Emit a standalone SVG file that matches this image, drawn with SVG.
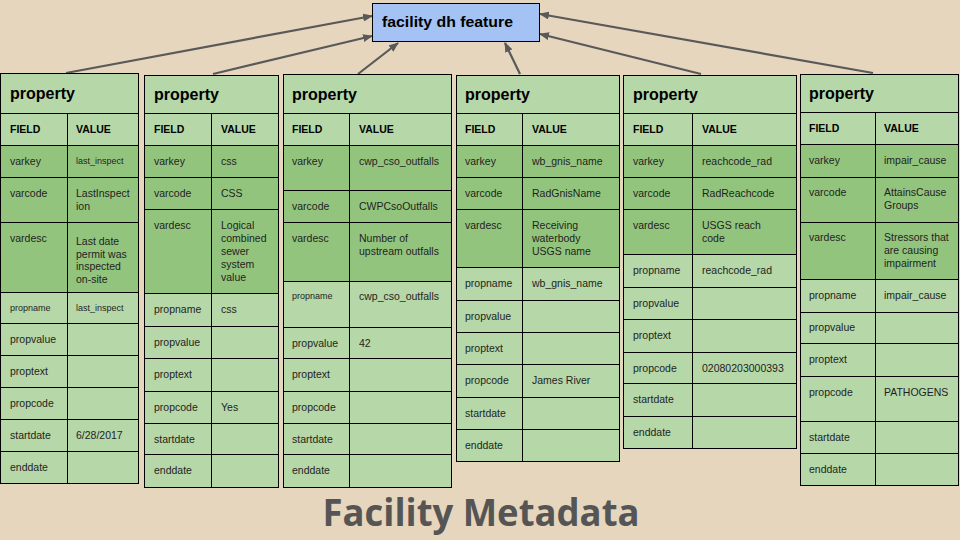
<svg xmlns="http://www.w3.org/2000/svg" width="960" height="540" viewBox="0 0 960 540">
<style>
.lt{fill:#b6d7a8;stroke:#000;stroke-width:1}
.dk{fill:#93c47d;stroke:#000;stroke-width:1}
.dv{stroke:#000;stroke-width:1}
text{font-family:"Liberation Sans",Arial,sans-serif;fill:#1f1f1f}
.h{font-size:16px;font-weight:bold;fill:#000}
.f{font-size:10.5px;font-weight:bold;fill:#000}
.t{font-size:10.5px}
.s{font-size:9px}
.con{stroke:#595959;stroke-width:2.2;fill:none;marker-end:url(#ah)}
</style>
<defs>
<marker id="ah" viewBox="0 0 10 8" refX="9" refY="4" markerWidth="10" markerHeight="8" markerUnits="userSpaceOnUse" orient="auto">
<path d="M0,0 L10,4 L0,8 z" fill="#595959"/>
</marker>
</defs>
<rect width="960" height="540" fill="#e6d6bd"/>

<g id="connectors">
<line class="con" x1="66" y1="73" x2="372" y2="16"/>
<line class="con" x1="213" y1="74" x2="372" y2="36"/>
<line class="con" x1="358" y1="74" x2="398" y2="43"/>
<line class="con" x1="520" y1="74" x2="505" y2="43"/>
<line class="con" x1="701" y1="74" x2="540" y2="34"/>
<line class="con" x1="873" y1="73" x2="540" y2="14"/>
</g>

<g id="feature">
<rect x="372.5" y="3.5" width="167" height="38" fill="#a4c2f4" stroke="#000" stroke-width="1"/>
<text x="382" y="27" style="font-size:15.5px;font-weight:bold;fill:#000" textLength="131" lengthAdjust="spacingAndGlyphs">facility dh feature</text>
</g>

<g id="table1">
<rect class="lt" x="0.5" y="73.5" width="138" height="40"/>
<rect class="lt" x="0.5" y="113.5" width="138" height="32"/>
<rect class="dk" x="0.5" y="145.5" width="138" height="32"/>
<rect class="dk" x="0.5" y="177.5" width="138" height="45"/>
<rect class="dk" x="0.5" y="222.5" width="138" height="70"/>
<rect class="lt" x="0.5" y="292.5" width="138" height="31"/>
<rect class="lt" x="0.5" y="323.5" width="138" height="32"/>
<rect class="lt" x="0.5" y="355.5" width="138" height="32"/>
<rect class="lt" x="0.5" y="387.5" width="138" height="32"/>
<rect class="lt" x="0.5" y="419.5" width="138" height="32"/>
<rect class="lt" x="0.5" y="451.5" width="138" height="32"/>
<line class="dv" x1="67.5" y1="113.5" x2="67.5" y2="483.5"/>
<text class="h" x="10" y="99">property</text>
<text class="f" x="10" y="133">FIELD</text><text class="f" x="76" y="133">VALUE</text>
<text class="t" x="10" y="165">varkey</text><text class="s" x="76" y="164">last_inspect</text>
<text class="t" x="10" y="197">varcode</text><text class="t" x="76" y="197">LastInspect</text><text class="t" x="76" y="210">ion</text>
<text class="t" x="10" y="242">vardesc</text><text class="t" x="76" y="245">Last date</text><text class="t" x="76" y="257.5">permit was</text><text class="t" x="76" y="270">inspected</text><text class="t" x="76" y="282.5">on-site</text>
<text class="s" x="10" y="311">propname</text><text class="s" x="76" y="311">last_inspect</text>
<text class="t" x="10" y="343">propvalue</text>
<text class="t" x="10" y="375">proptext</text>
<text class="t" x="10" y="407">propcode</text>
<text class="t" x="10" y="439">startdate</text><text class="t" x="76" y="439">6/28/2017</text>
<text class="t" x="10" y="471">enddate</text>
</g>

<g id="table2">
<rect class="lt" x="144.5" y="75.5" width="134" height="38"/>
<rect class="lt" x="144.5" y="113.5" width="134" height="32"/>
<rect class="dk" x="144.5" y="145.5" width="134" height="32"/>
<rect class="dk" x="144.5" y="177.5" width="134" height="32"/>
<rect class="dk" x="144.5" y="209.5" width="134" height="84"/>
<rect class="lt" x="144.5" y="293.5" width="134" height="33"/>
<rect class="lt" x="144.5" y="326.5" width="134" height="32"/>
<rect class="lt" x="144.5" y="358.5" width="134" height="33"/>
<rect class="lt" x="144.5" y="391.5" width="134" height="32"/>
<rect class="lt" x="144.5" y="423.5" width="134" height="31"/>
<rect class="lt" x="144.5" y="454.5" width="134" height="33"/>
<line class="dv" x1="211.5" y1="113.5" x2="211.5" y2="487.5"/>
<text class="h" x="154" y="100">property</text>
<text class="f" x="154" y="133">FIELD</text><text class="f" x="221" y="133">VALUE</text>
<text class="t" x="154" y="165">varkey</text><text class="t" x="221" y="165">css</text>
<text class="t" x="154" y="197">varcode</text><text class="t" x="221" y="197">CSS</text>
<text class="t" x="154" y="229">vardesc</text><text class="t" x="221" y="229">Logical</text><text class="t" x="221" y="242">combined</text><text class="t" x="221" y="255">sewer</text><text class="t" x="221" y="268">system</text><text class="t" x="221" y="281">value</text>
<text class="t" x="154" y="313">propname</text><text class="t" x="221" y="313">css</text>
<text class="t" x="154" y="346">propvalue</text>
<text class="t" x="154" y="378">proptext</text>
<text class="t" x="154" y="411">propcode</text><text class="t" x="221" y="411">Yes</text>
<text class="t" x="154" y="443">startdate</text>
<text class="t" x="154" y="474">enddate</text>
</g>

<g id="table3">
<rect class="lt" x="283.5" y="74.5" width="168" height="39"/>
<rect class="lt" x="283.5" y="113.5" width="168" height="32"/>
<rect class="dk" x="283.5" y="145.5" width="168" height="45"/>
<rect class="dk" x="283.5" y="190.5" width="168" height="32"/>
<rect class="dk" x="283.5" y="222.5" width="168" height="59"/>
<rect class="lt" x="283.5" y="281.5" width="168" height="46"/>
<rect class="lt" x="283.5" y="327.5" width="168" height="31"/>
<rect class="lt" x="283.5" y="358.5" width="168" height="33"/>
<rect class="lt" x="283.5" y="391.5" width="168" height="32"/>
<rect class="lt" x="283.5" y="423.5" width="168" height="31"/>
<rect class="lt" x="283.5" y="454.5" width="168" height="33"/>
<line class="dv" x1="349.5" y1="113.5" x2="349.5" y2="487.5"/>
<text class="h" x="292" y="100">property</text>
<text class="f" x="292" y="133">FIELD</text><text class="f" x="359" y="133">VALUE</text>
<text class="t" x="292" y="165">varkey</text><text class="t" x="359" y="165">cwp_cso_outfalls</text>
<text class="t" x="292" y="210">varcode</text><text class="t" x="359" y="210">CWPCsoOutfalls</text>
<text class="t" x="292" y="242">vardesc</text><text class="t" x="359" y="242">Number of</text><text class="t" x="359" y="255">upstream outfalls</text>
<text class="s" x="292" y="299">propname</text><text class="t" x="359" y="300">cwp_cso_outfalls</text>
<text class="t" x="292" y="347">propvalue</text><text class="t" x="359" y="347">42</text>
<text class="t" x="292" y="378">proptext</text>
<text class="t" x="292" y="411">propcode</text>
<text class="t" x="292" y="443">startdate</text>
<text class="t" x="292" y="474">enddate</text>
</g>

<g id="table4">
<rect class="lt" x="456.5" y="75.5" width="163" height="38"/>
<rect class="lt" x="456.5" y="113.5" width="163" height="32"/>
<rect class="dk" x="456.5" y="145.5" width="163" height="32"/>
<rect class="dk" x="456.5" y="177.5" width="163" height="32"/>
<rect class="dk" x="456.5" y="209.5" width="163" height="58"/>
<rect class="lt" x="456.5" y="267.5" width="163" height="33"/>
<rect class="lt" x="456.5" y="300.5" width="163" height="32"/>
<rect class="lt" x="456.5" y="332.5" width="163" height="32"/>
<rect class="lt" x="456.5" y="364.5" width="163" height="33"/>
<rect class="lt" x="456.5" y="397.5" width="163" height="32"/>
<rect class="lt" x="456.5" y="429.5" width="163" height="32"/>
<line class="dv" x1="522.5" y1="113.5" x2="522.5" y2="461.5"/>
<text class="h" x="465" y="100">property</text>
<text class="f" x="465" y="133">FIELD</text><text class="f" x="532" y="133">VALUE</text>
<text class="t" x="465" y="165">varkey</text><text class="t" x="532" y="165">wb_gnis_name</text>
<text class="t" x="465" y="197">varcode</text><text class="t" x="532" y="197">RadGnisName</text>
<text class="t" x="465" y="229">vardesc</text><text class="t" x="532" y="229">Receiving</text><text class="t" x="532" y="242">waterbody</text><text class="t" x="532" y="255">USGS name</text>
<text class="t" x="465" y="287">propname</text><text class="t" x="532" y="287">wb_gnis_name</text>
<text class="t" x="465" y="320">propvalue</text>
<text class="t" x="465" y="352">proptext</text>
<text class="t" x="465" y="384">propcode</text><text class="t" x="532" y="384">James River</text>
<text class="t" x="465" y="417">startdate</text>
<text class="t" x="465" y="449">enddate</text>
</g>

<g id="table5">
<rect class="lt" x="623.5" y="75.5" width="173" height="38"/>
<rect class="lt" x="623.5" y="113.5" width="173" height="32"/>
<rect class="dk" x="623.5" y="145.5" width="173" height="32"/>
<rect class="dk" x="623.5" y="177.5" width="173" height="32"/>
<rect class="dk" x="623.5" y="209.5" width="173" height="45"/>
<rect class="lt" x="623.5" y="254.5" width="173" height="33"/>
<rect class="lt" x="623.5" y="287.5" width="173" height="32"/>
<rect class="lt" x="623.5" y="319.5" width="173" height="33"/>
<rect class="lt" x="623.5" y="352.5" width="173" height="31"/>
<rect class="lt" x="623.5" y="383.5" width="173" height="33"/>
<rect class="lt" x="623.5" y="416.5" width="173" height="32"/>
<line class="dv" x1="692.5" y1="113.5" x2="692.5" y2="448.5"/>
<text class="h" x="633" y="100">property</text>
<text class="f" x="633" y="133">FIELD</text><text class="f" x="702" y="133">VALUE</text>
<text class="t" x="633" y="165">varkey</text><text class="t" x="702" y="165">reachcode_rad</text>
<text class="t" x="633" y="197">varcode</text><text class="t" x="702" y="197">RadReachcode</text>
<text class="t" x="633" y="229">vardesc</text><text class="t" x="702" y="229">USGS reach</text><text class="t" x="702" y="242">code</text>
<text class="t" x="633" y="274">propname</text><text class="t" x="702" y="274">reachcode_rad</text>
<text class="t" x="633" y="307">propvalue</text>
<text class="t" x="633" y="339">proptext</text>
<text class="t" x="633" y="372">propcode</text><text class="t" x="702" y="372">02080203000393</text>
<text class="t" x="633" y="403">startdate</text>
<text class="t" x="633" y="436">enddate</text>
</g>

<g id="table6">
<rect class="lt" x="800.5" y="74.5" width="158" height="38"/>
<rect class="lt" x="800.5" y="112.5" width="158" height="32"/>
<rect class="dk" x="800.5" y="144.5" width="158" height="33"/>
<rect class="dk" x="800.5" y="177.5" width="158" height="45"/>
<rect class="dk" x="800.5" y="222.5" width="158" height="57"/>
<rect class="lt" x="800.5" y="279.5" width="158" height="33"/>
<rect class="lt" x="800.5" y="312.5" width="158" height="31"/>
<rect class="lt" x="800.5" y="343.5" width="158" height="33"/>
<rect class="lt" x="800.5" y="376.5" width="158" height="45"/>
<rect class="lt" x="800.5" y="421.5" width="158" height="32"/>
<rect class="lt" x="800.5" y="453.5" width="158" height="32"/>
<line class="dv" x1="875.5" y1="112.5" x2="875.5" y2="485.5"/>
<text class="h" x="809" y="99">property</text>
<text class="f" x="809" y="132">FIELD</text><text class="f" x="884" y="132">VALUE</text>
<text class="t" x="809" y="164">varkey</text><text class="t" x="884" y="164">impair_cause</text>
<text class="t" x="809" y="196">varcode</text><text class="t" x="884" y="196">AttainsCause</text><text class="t" x="884" y="209">Groups</text>
<text class="t" x="809" y="241">vardesc</text><text class="t" x="884" y="241">Stressors that</text><text class="t" x="884" y="254">are causing</text><text class="t" x="884" y="267">impairment</text>
<text class="t" x="809" y="299">propname</text><text class="t" x="884" y="299">impair_cause</text>
<text class="t" x="809" y="331">propvalue</text>
<text class="t" x="809" y="363">proptext</text>
<text class="t" x="809" y="396">propcode</text><text class="t" x="884" y="396">PATHOGENS</text>
<text class="t" x="809" y="441">startdate</text>
<text class="t" x="809" y="473">enddate</text>
</g>

<text x="481" y="526" text-anchor="middle" style="font-family:'Open Sans','DejaVu Sans',sans-serif;font-size:38px;font-weight:bold;fill:#555555" textLength="317" lengthAdjust="spacingAndGlyphs">Facility Metadata</text>
</svg>
